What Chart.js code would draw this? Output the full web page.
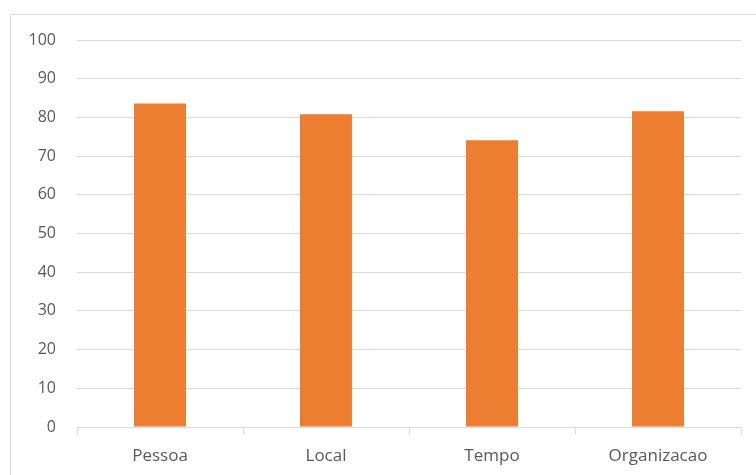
<!DOCTYPE html>
<html>
<head>
<meta charset="utf-8">
<script src="https://cdn.jsdelivr.net/npm/chart.js@4/dist/chart.umd.min.js"></script>
<style>
  html, body { margin: 0; padding: 0; background: #fff; overflow: hidden; }
  #wrap { position: relative; width: 756px; height: 475px; }
  #frame { position: absolute; left: 10px; top: 14px; width: 800px; height: 520px; border: 1px solid #d9d9d9; }
  canvas { position: absolute; left: 0; top: 0; }
</style>
</head>
<body>
<div id="wrap">
  <div id="frame"></div>
  <canvas id="barChart" width="756" height="475"></canvas>
</div>
<script>
const categories = ['Pessoa', 'Local', 'Tempo', 'Organizacao'];
const values = [83.6, 80.8, 74.1, 81.6];
const yMin = 0;
const yMax = 100;
const yStep = 10;

const textColor = '#595959';
const gridColor = '#d9d9d9';
const fontFamily = "'Open Sans', 'Liberation Sans', sans-serif";

const ctx = document.getElementById('barChart').getContext('2d');
const barChart = new Chart(ctx, {
    type: 'bar',
    data: {
        labels: categories,
        datasets: [{
            data: values,
            backgroundColor: '#ed7d31',
            borderWidth: 0,
            categoryPercentage: 0.313,
            barPercentage: 1
        }]
    },
    options: {
        responsive: false,
        animation: false,
        layout: {
            padding: { top: 40, right: 15, bottom: 0, left: 0 }
        },
        plugins: {
            legend: { display: false },
            tooltip: { enabled: false }
        },
        scales: {
            x: {
                grid: {
                    display: true,
                    drawOnChartArea: false,
                    drawTicks: true,
                    tickLength: 7,
                    color: gridColor,
                    offset: true
                },
                border: { color: gridColor },
                ticks: {
                    color: textColor,
                    padding: 12,
                    font: { family: fontFamily, size: 17 }
                },
                afterFit: (scale) => { scale.height = 48; }
            },
            y: {
                min: yMin,
                max: yMax,
                ticks: {
                    stepSize: yStep,
                    color: textColor,
                    padding: 21,
                    font: { family: fontFamily, size: 16 }
                },
                grid: {
                    color: gridColor,
                    drawTicks: false
                },
                border: { display: false },
                afterFit: (scale) => { scale.width = 77; }
            }
        }
    }
});
</script>
</body>
</html>
